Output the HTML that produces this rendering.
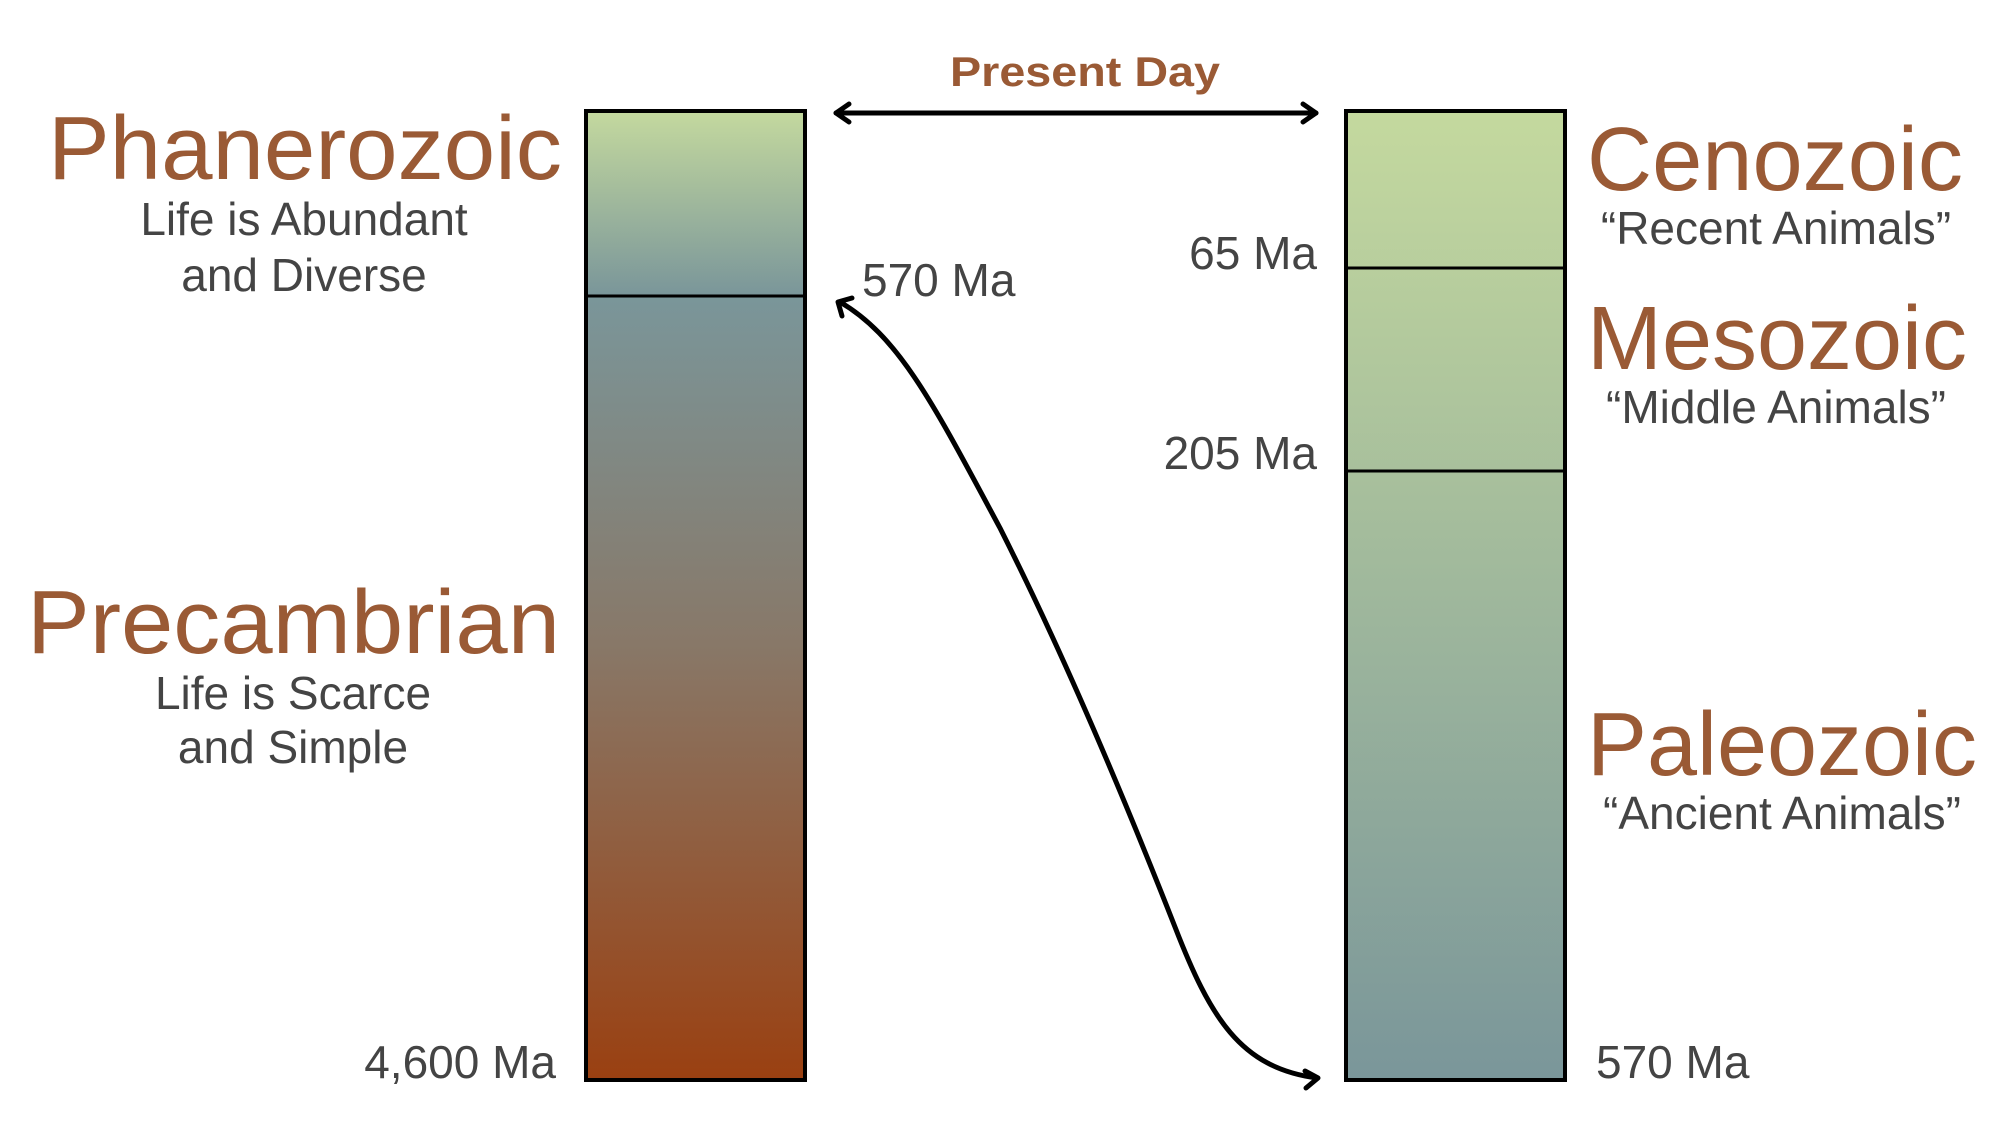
<!DOCTYPE html>
<html><head><meta charset="utf-8"><style>html,body{margin:0;padding:0;background:#fff}svg{display:block}</style></head>
<body>
<svg width="2000" height="1125" viewBox="0 0 2000 1125" xmlns="http://www.w3.org/2000/svg">
<defs>
<linearGradient id="gl" x1="0" y1="111" x2="0" y2="1080" gradientUnits="userSpaceOnUse">
<stop offset="0" stop-color="#c4d99e"/>
<stop offset="0.19" stop-color="#7a969a"/>
<stop offset="0.55" stop-color="#887868"/>
<stop offset="1" stop-color="#9a4011"/>
</linearGradient>
<linearGradient id="gr" x1="0" y1="111" x2="0" y2="1080" gradientUnits="userSpaceOnUse">
<stop offset="0" stop-color="#c4d99e"/>
<stop offset="1" stop-color="#7a969a"/>
</linearGradient>
</defs>
<rect x="586" y="111" width="219" height="969" fill="url(#gl)" stroke="#000" stroke-width="4"/>
<line x1="586" y1="296" x2="805" y2="296" stroke="#000" stroke-width="3"/>
<rect x="1346" y="111" width="219" height="969" fill="url(#gr)" stroke="#000" stroke-width="4"/>
<line x1="1346" y1="268" x2="1565" y2="268" stroke="#000" stroke-width="3"/>
<line x1="1346" y1="471" x2="1565" y2="471" stroke="#000" stroke-width="3"/>
<g fill="none" stroke="#000" stroke-width="5" stroke-linecap="round" stroke-linejoin="round">
<line x1="836" y1="113" x2="1316" y2="113"/>
<polyline points="849,104 836,113 849,122"/>
<polyline points="1303,104 1316,113 1303,122"/>
<path d="M840,302 C900,337 935,407 1000,528 C1060,647 1120,787 1175,927 C1210,1017 1240,1068 1317,1078"/>
<polyline points="842,316 838,302 852,298"/>
<polyline points="1305,1071 1318,1078 1306,1088"/>
</g>
<g font-family="Liberation Sans, sans-serif">
<text x="1085" y="86" text-anchor="middle" font-size="42" font-weight="bold" fill="#9a5a35" textLength="270" lengthAdjust="spacingAndGlyphs">Present Day</text>
<g fill="#9a5a35" font-size="90">
<text x="48" y="179" textLength="514" lengthAdjust="spacingAndGlyphs">Phanerozoic</text>
<text x="27" y="653" textLength="533" lengthAdjust="spacingAndGlyphs">Precambrian</text>
<text x="1587" y="190" textLength="376" lengthAdjust="spacingAndGlyphs">Cenozoic</text>
<text x="1587" y="369" textLength="380" lengthAdjust="spacingAndGlyphs">Mesozoic</text>
<text x="1587" y="775" textLength="390" lengthAdjust="spacingAndGlyphs">Paleozoic</text>
</g>
<g fill="#444" font-size="46">
<text x="304" y="235" text-anchor="middle">Life is Abundant</text>
<text x="304" y="291" text-anchor="middle">and Diverse</text>
<text x="293" y="709" text-anchor="middle">Life is Scarce</text>
<text x="293" y="763" text-anchor="middle">and Simple</text>
<text x="1776" y="244" text-anchor="middle">“Recent Animals”</text>
<text x="1776" y="423" text-anchor="middle">“Middle Animals”</text>
<text x="1782" y="829" text-anchor="middle">“Ancient Animals”</text>
<text x="556" y="1078" text-anchor="end">4,600 Ma</text>
<text x="862" y="296">570 Ma</text>
<text x="1317" y="269" text-anchor="end">65 Ma</text>
<text x="1317" y="469" text-anchor="end">205 Ma</text>
<text x="1596" y="1078">570 Ma</text>
</g>
</g>
</svg>
</body></html>
